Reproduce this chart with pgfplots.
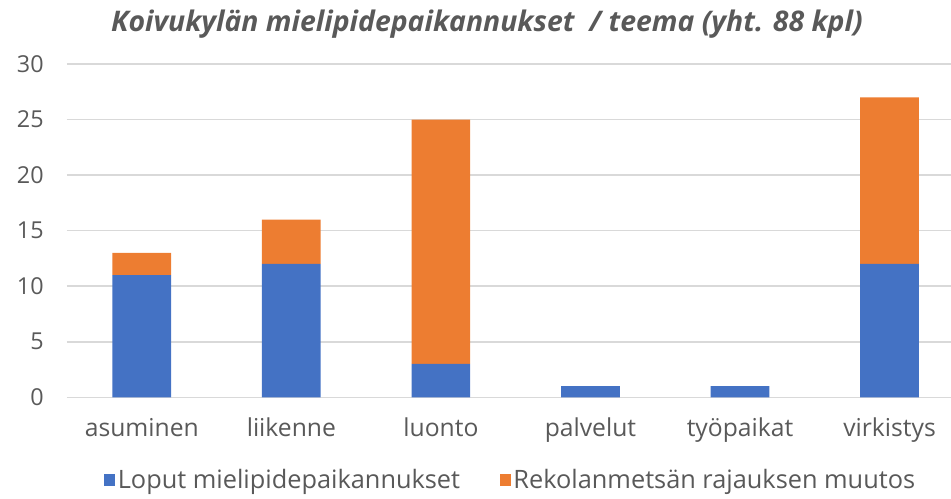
\documentclass[border=0pt]{standalone}
\usepackage{pgfplots}
\pgfplotsset{compat=1.18}
\usepackage{fontspec}
\setmainfont{Open Sans}
\definecolor{cblue}{HTML}{4472C4}
\definecolor{corange}{HTML}{ED7D31}
\definecolor{cgrid}{HTML}{D9D9D9}
\definecolor{ctext}{HTML}{595959}
\begin{document}
\begin{tikzpicture}
\begin{axis}[
  at={(0,0)}, anchor=south west,
  scale only axis, width=673pt, height=250pt,
  ybar stacked, bar width=44pt,
  xmin=-0.5, xmax=5.5, ymin=0, ymax=30,
  xtick=data,
  xticklabels={asuminen,liikenne,luonto,palvelut,työpaikat,virkistys},
  ytick={0,5,...,30},
  axis line style={draw=none},
  major tick length=0pt,
  ymajorgrids, grid style={cgrid, line width=1.1pt},
  /pgf/number format/assume math mode=true,
  tick label style={text=ctext},
  yticklabel style={font=\fontsize{17.5}{20}\selectfont, xshift=-14pt},
  xticklabel style={font=\fontsize{18.5}{21}\selectfont, yshift=-12pt},
  title={\fontsize{21.3}{25}\selectfont\bfseries\itshape Koivukylän mielipidepaikannukset \ / teema (yht. 88 kpl)},
  title style={at={(0.468,1)}, anchor=base, yshift=18pt, text=ctext},
  legend style={at={(0.495,0)}, anchor=center, yshift=-62pt, draw=none, legend columns=2,
    font=\fontsize{19}{22}\selectfont, text=ctext, inner sep=0pt,
    /tikz/every even column/.append style={column sep=28pt}},
  legend image code/.code={\fill[#1] (0pt,-4.5pt) rectangle (8pt,4.5pt);},
]
\addplot[fill=cblue, draw=none] coordinates {(0,11) (1,12) (2,3) (3,1) (4,1) (5,12)};
\addplot[fill=corange, draw=none] coordinates {(0,2) (1,4) (2,22) (3,0) (4,0) (5,15)};
\legend{Loput mielipidepaikannukset, Rekolanmetsän rajauksen muutos}
\end{axis}
\pgfresetboundingbox
\path (-50.25pt,-75.75pt) rectangle (663pt,298pt);
\end{tikzpicture}
\end{document}
